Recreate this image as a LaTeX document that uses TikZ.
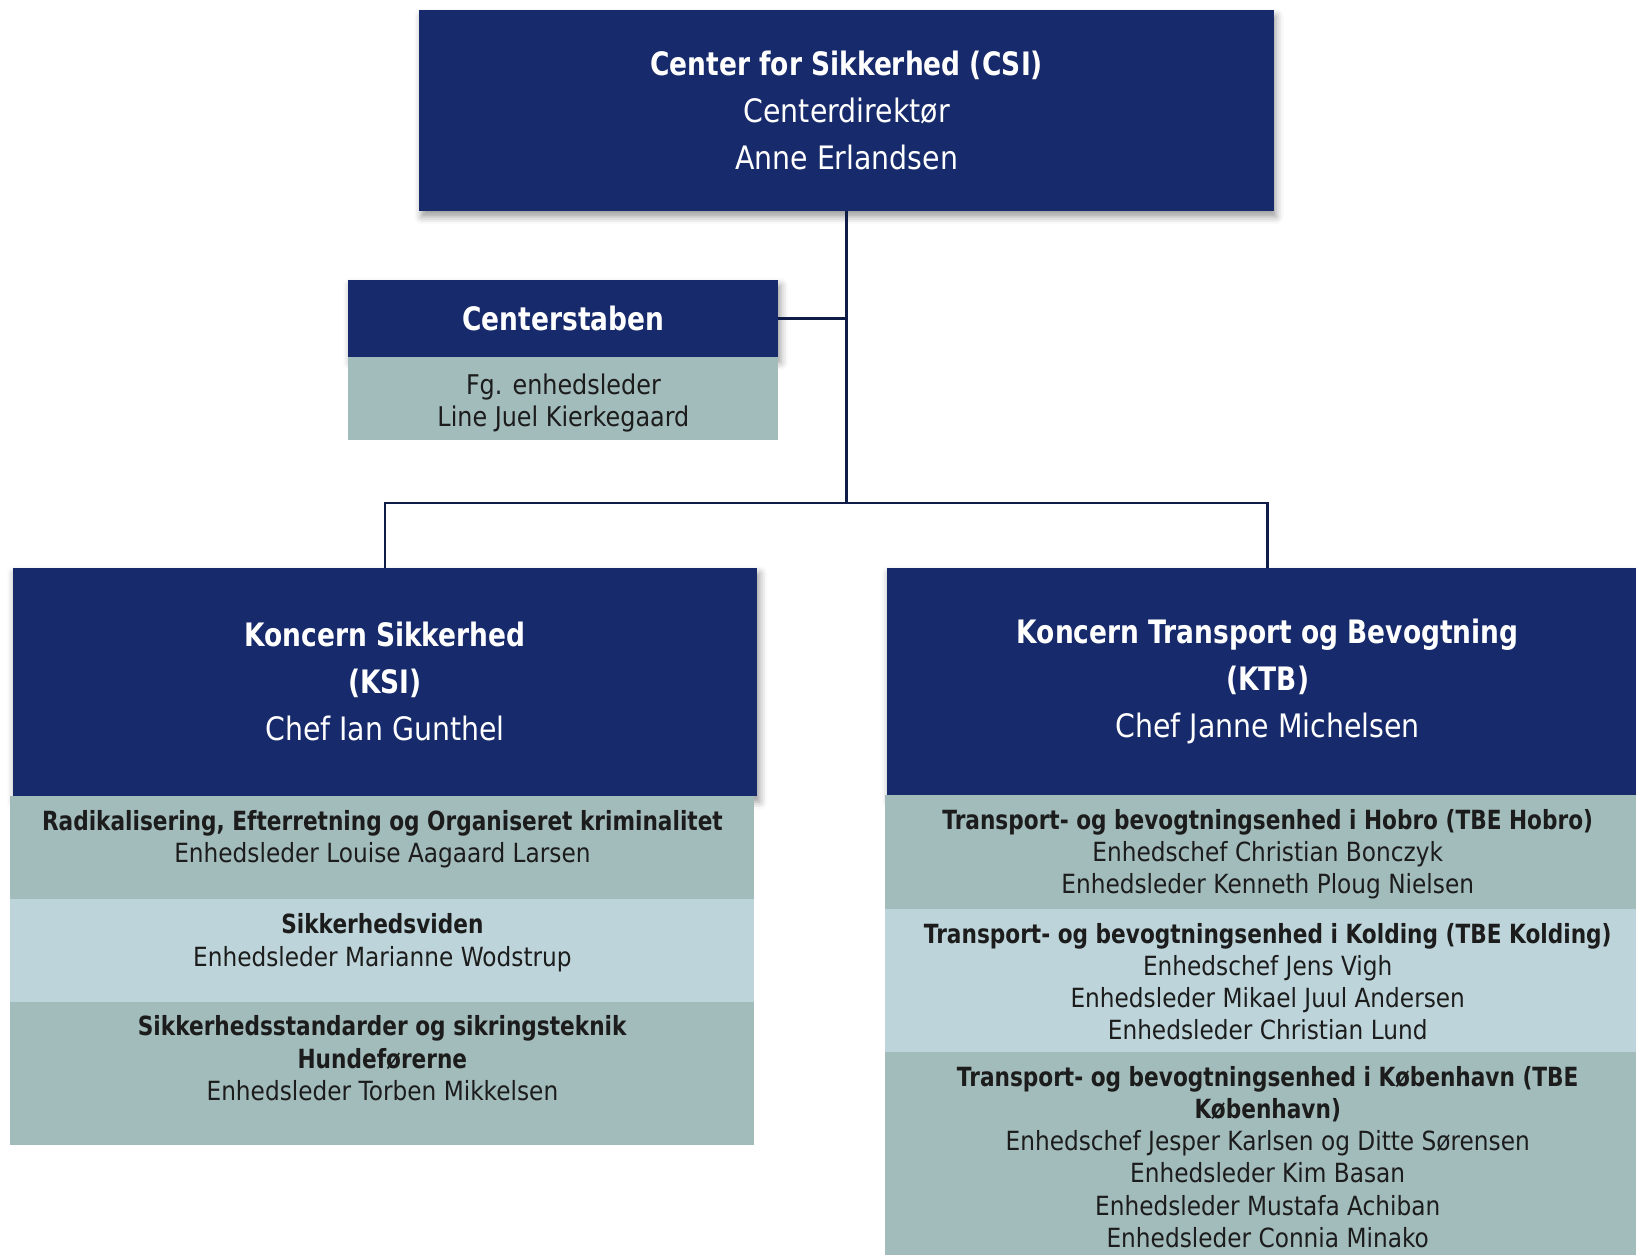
\documentclass[tikz,border=0pt]{standalone}
\usepackage{fontspec}
\setmainfont{DejaVu Sans}[FakeStretch=0.88, BoldFeatures={FakeStretch=0.82}]
\usetikzlibrary{positioning, shadows.blur}

\definecolor{navy}{RGB}{23,42,107}
\definecolor{rowDark}{RGB}{162,187,187}
\definecolor{rowLight}{RGB}{189,213,218}
\definecolor{lineNavy}{RGB}{16,28,72}
\definecolor{ink}{RGB}{28,28,28}
\newcommand{\headfont}{\fontsize{8.8}{12.8}\selectfont}
\newcommand{\rowfont}{\fontsize{7.2}{8.8}\selectfont}

\begin{document}
\begin{tikzpicture}[node distance=0pt]
        \tikzstyle{head} = [rectangle, fill=navy, inner sep=0pt, outer sep=0pt, blur shadow={shadow xshift=0.6pt, shadow yshift=-1.6pt, shadow blur radius=2pt, shadow opacity=40}]
        \tikzstyle{unit} = [rectangle, inner sep=0pt, outer sep=0pt]
        \tikzstyle{headText} = [text=white, align=center, font=\headfont, inner sep=0pt]
        \tikzstyle{unitText} = [text=ink, align=center, font=\rowfont, inner sep=0pt]
        \tikzstyle{link} = [draw=lineNavy, line width=0.7pt]

        \useasboundingbox (0,0) rectangle (15.68,-12.02);
        \clip (0,0) rectangle (15.68,-12.02);

        %top
        \node[head, minimum width=8.19cm, minimum height=1.92cm] (csi) at (8.115,-1.06) {};
        \node[headText] (csiText) at (csi) {\textbf{Center for Sikkerhed (CSI)}\\Centerdirektør\\Anne Erlandsen};

        %staff
        \node[head, minimum width=4.12cm, minimum height=0.74cm] (stabenHead) at (5.40,-3.05) {};
        \node[unit, fill=rowDark, minimum width=4.12cm, minimum height=0.80cm, below=of stabenHead] (stabenBody) {};
        \node[headText] (stabenTitle) at (stabenHead) {\textbf{Centerstaben}};
        \node[unitText, font=\fontsize{7.4}{8.8}\selectfont, yshift=-0.04cm] (stabenText) at (stabenBody) {Fg. enhedsleder\\Line Juel Kierkegaard};

        %KSI
        \node[head, minimum width=7.14cm, minimum height=2.19cm] (ksi) at (3.69,-6.535) {};
        \node[headText] (ksiText) at (ksi) {\textbf{Koncern Sikkerhed}\\\textbf{(KSI)}\\Chef Ian Gunthel};
        \node[unit, fill=rowDark, minimum width=7.13cm, minimum height=0.99cm, below=0pt of ksi.south, xshift=-0.025cm] (radBox) {};
        \node[unit, fill=rowLight, minimum width=7.13cm, minimum height=0.98cm, below=of radBox] (videnBox) {};
        \node[unit, fill=rowDark, minimum width=7.13cm, minimum height=1.37cm, below=of videnBox] (stdBox) {};
        \node[unitText, below=0.13cm of radBox.north] (radText) {\textbf{Radikalisering, Efterretning og Organiseret kriminalitet}\\Enhedsleder Louise Aagaard Larsen};
        \node[unitText, below=0.13cm of videnBox.north] (videnText) {\textbf{Sikkerhedsviden}\\Enhedsleder Marianne Wodstrup};
        \node[unitText, below=0.13cm of stdBox.north] (stdText) {\textbf{Sikkerhedsstandarder og sikringsteknik}\\\textbf{Hundeførerne}\\Enhedsleder Torben Mikkelsen};

        %KTB
        \node[head, minimum width=7.30cm, minimum height=2.18cm] (ktb) at (12.15,-6.53) {};
        \node[headText] (ktbText) at (ktb) {\textbf{Koncern Transport og Bevogtning}\\\textbf{(KTB)}\\Chef Janne Michelsen};
        \node[unit, fill=rowDark, minimum width=7.34cm, minimum height=1.09cm, below=of ktb] (hobroBox) {};
        \node[unit, fill=rowLight, minimum width=7.34cm, minimum height=1.37cm, below=of hobroBox] (koldingBox) {};
        \node[unit, fill=rowDark, minimum width=7.34cm, minimum height=2.00cm, below=of koldingBox] (kbhBox) {};
        \node[unitText, below=0.13cm of hobroBox.north] (hobroText) {\textbf{Transport- og bevogtningsenhed i Hobro (TBE Hobro)}\\Enhedschef Christian Bonczyk\\Enhedsleder Kenneth Ploug Nielsen};
        \node[unitText, below=0.13cm of koldingBox.north] (koldingText) {\textbf{Transport- og bevogtningsenhed i Kolding (TBE Kolding)}\\Enhedschef Jens Vigh\\Enhedsleder Mikael Juul Andersen\\Enhedsleder Christian Lund};
        \node[unitText, below=0.13cm of kbhBox.north] (kbhText) {\textbf{Transport- og bevogtningsenhed i København (TBE}\\\textbf{København)}\\Enhedschef Jesper Karlsen og Ditte Sørensen\\Enhedsleder Kim Basan\\Enhedsleder Mustafa Achiban\\Enhedsleder Connia Minako};

        %lines
        \coordinate (split) at (8.115,-4.82);
        \draw[link] (csi.south) -- (split);
        \draw[link] (stabenHead.east) -- (stabenHead.east -| csi.south);
        \draw[link] (ksi.north) |- (split) -| (ktb.north);
    \end{tikzpicture}
\end{document}
